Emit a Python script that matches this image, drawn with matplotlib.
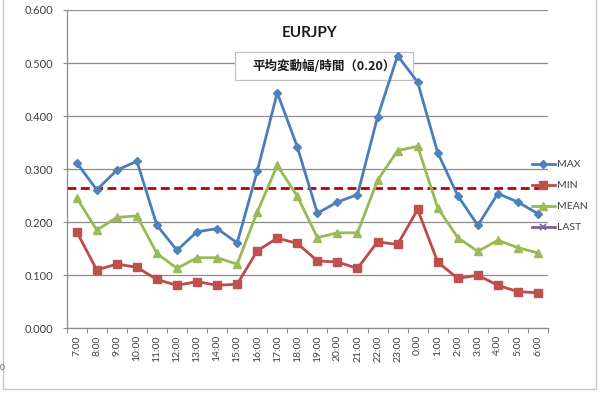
import matplotlib
matplotlib.use("Agg")
import matplotlib.pyplot as plt
import numpy as np
from matplotlib.patches import Rectangle

plt.rcParams['font.family'] = ['Lato', 'Noto Sans CJK JP', 'DejaVu Sans']

hours = ["7:00", "8:00", "9:00", "10:00", "11:00", "12:00", "13:00", "14:00",
         "15:00", "16:00", "17:00", "18:00", "19:00", "20:00", "21:00", "22:00",
         "23:00", "0:00", "1:00", "2:00", "3:00", "4:00", "5:00", "6:00"]
max_vals = [0.312, 0.261, 0.298, 0.315, 0.194, 0.147, 0.182, 0.188,
            0.161, 0.296, 0.444, 0.342, 0.217, 0.238, 0.252, 0.398,
            0.514, 0.464, 0.331, 0.250, 0.194, 0.254, 0.238, 0.216]
min_vals = [0.182, 0.110, 0.121, 0.115, 0.092, 0.081, 0.088, 0.081,
            0.083, 0.146, 0.170, 0.160, 0.127, 0.125, 0.113, 0.163,
            0.158, 0.224, 0.125, 0.094, 0.100, 0.081, 0.069, 0.067]
mean_vals = [0.246, 0.185, 0.209, 0.212, 0.141, 0.113, 0.133, 0.133,
             0.121, 0.219, 0.307, 0.249, 0.171, 0.180, 0.180, 0.279,
             0.335, 0.343, 0.227, 0.171, 0.145, 0.166, 0.152, 0.142]
last_vals = []
ref_level = 0.264
title = "EURJPY"
note = "平均変動幅/時間（0.20）"
yticks = [0.0, 0.1, 0.2, 0.3, 0.4, 0.5, 0.6]

W, H = 600, 393
fig = plt.figure(figsize=(6, 3.93), dpi=100)
fig.patch.set_facecolor('white')

# outer chart frame
fig.patches.append(Rectangle((3 / W, 1 - 389 / H), 593 / W, 1.2,
                             transform=fig.transFigure, fill=False,
                             edgecolor='#C8C8C8', lw=1.0))

ax = fig.add_axes([66.7 / W, 1 - 328.3 / H, (548 - 66.7) / W, (328.3 - 10) / H])
ax.set_facecolor('none')
x = np.arange(len(hours))

ax.set_xlim(-0.5, len(hours) - 0.5)
ax.set_ylim(0, 0.6)
ax.set_axisbelow(True)
ax.yaxis.grid(True, color='#8C8C8C', lw=0.9)
for s in ['top', 'right']:
    ax.spines[s].set_visible(False)
for s in ['left', 'bottom']:
    ax.spines[s].set_color('#8C8C8C')
    ax.spines[s].set_linewidth(0.9)

ax.set_yticks(yticks)
ax.set_yticklabels([f"{v:.3f}" for v in yticks], fontsize=8, color='#404040')
ax.tick_params(axis='y', length=3, color='#8C8C8C', pad=7)

ax.set_xticks(np.arange(-0.5, len(hours), 1))
ax.set_xticklabels([])
ax.tick_params(axis='x', which='major', length=3.5, color='#8C8C8C')
ax.set_xticks(x, minor=True)
ax.set_xticklabels(hours, minor=True, rotation=90, fontsize=7.5, color='#404040')
ax.tick_params(axis='x', which='minor', length=0, pad=5)

# note box
ax.add_patch(Rectangle((235 / W, 1 - 80 / H), 178 / W, 28 / H,
                       transform=fig.transFigure, facecolor='white',
                       edgecolor='#C0C0C0', lw=0.9, zorder=1.5))
fig.text(324 / W, 1 - 66.5 / H, note, ha='center', va='center', fontsize=9,
         fontweight='bold', family=['Noto Sans CJK JP', 'DejaVu Sans'],
         color='#1a1a1a')
fig.text(310 / W, 1 - 33 / H, title, ha='center', va='center', fontsize=11,
         fontweight='bold', color='#1a1a1a')

ax.axhline(ref_level, color='#C00000', lw=2.0, dashes=(3.2, 1.6), zorder=2.5)

ax.plot(x, max_vals, color='#4A7EBB', lw=2.0, marker='D', ms=4.2,
        mfc='#4F81BD', mec='#4F81BD', label='MAX', zorder=3)
ax.plot(x, min_vals, color='#BE4B48', lw=2.0, marker='s', ms=5.2,
        mfc='#C0504D', mec='#C0504D', label='MIN', zorder=3)
ax.plot(x, mean_vals, color='#98B954', lw=2.0, marker='^', ms=5.5,
        mfc='#9BBB59', mec='#9BBB59', label='MEAN', zorder=3)
ax.plot(np.arange(len(last_vals)), last_vals, color='#7D60A0', lw=2.0,
        marker='x', ms=5, mew=1.2, label='LAST', zorder=3)

leg = ax.legend(loc='upper left', bbox_to_anchor=(532 / W, 1 - 160 / H),
                bbox_transform=fig.transFigure, frameon=False, fontsize=7.5,
                handlelength=2.2, handletextpad=0.2, borderpad=0,
                borderaxespad=0, labelspacing=1.12)
for t in leg.get_texts():
    t.set_color('#404040')

fig.text(0.0, 1 - 368 / H, "0", fontsize=6, color='#606060', va='center')

fig.savefig("out.png", dpi=100, facecolor='white')
